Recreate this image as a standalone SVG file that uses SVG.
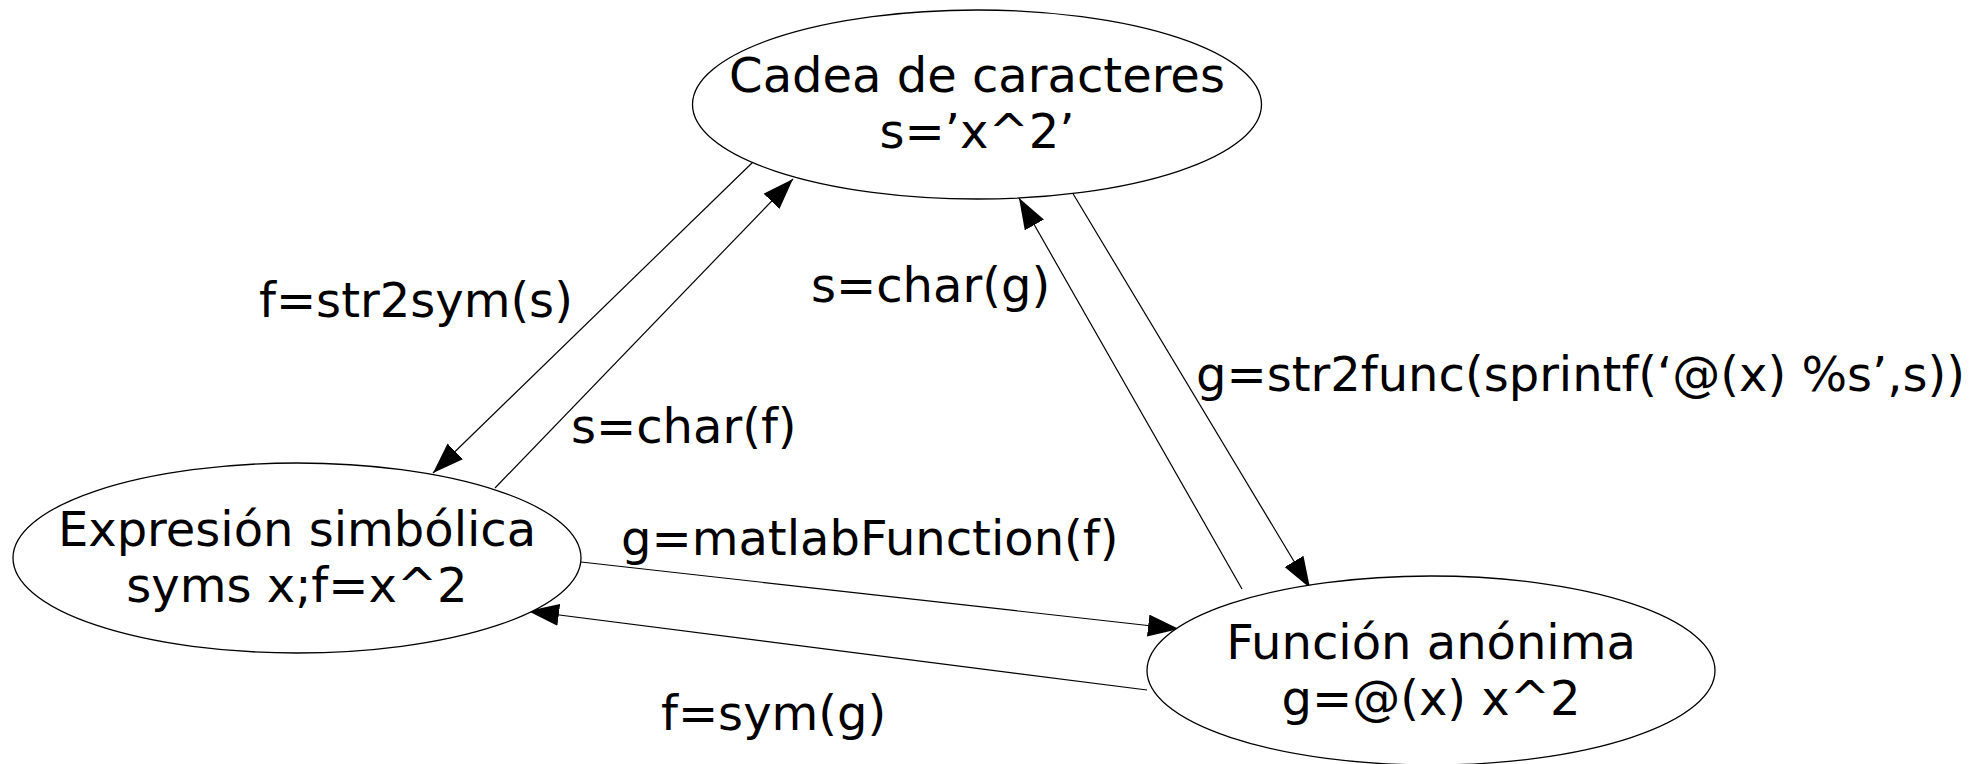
<svg xmlns="http://www.w3.org/2000/svg" width="1985" height="764" viewBox="0 0 1985 764">
<defs>
<marker id="arr" markerUnits="userSpaceOnUse" markerWidth="32" markerHeight="24" refX="31" refY="11" orient="auto">
<path d="M0,0 L31,11 L0,22 z" fill="#000"/>
</marker>
<style>
.node ellipse{fill:#fff;stroke:#000;stroke-width:1.3}
text{font-family:"DejaVu Sans","Liberation Sans",sans-serif;font-size:48px;fill:#000}
.c{text-anchor:middle}
.edge line{stroke:#000;stroke-width:1.2;marker-end:url(#arr)}
</style>
</defs>
<rect width="1985" height="764" fill="#fff"/>
<g id="connectors" class="edge">
<line x1="753" y1="162" x2="433" y2="473"/>
<line x1="495" y1="488" x2="793" y2="179"/>
<line x1="1242" y1="589" x2="1019" y2="198"/>
<line x1="1072" y1="192" x2="1310" y2="588"/>
<line x1="581" y1="562" x2="1179" y2="629"/>
<line x1="1147" y1="690" x2="528" y2="611"/>
</g>
<g id="labels">
<text x="259" y="317">f=str2sym(s)</text>
<text x="571" y="443">s=char(f)</text>
<text x="811" y="302">s=char(g)</text>
<text x="1196" y="391">g=str2func(sprintf(‘@(x) %s’,s))</text>
<text x="621" y="555">g=matlabFunction(f)</text>
<text x="661" y="730">f=sym(g)</text>
</g>
<g id="node-cadena" class="node">
<ellipse cx="977" cy="104.5" rx="284.5" ry="94.5"/>
<text class="c" x="977" y="92">Cadea de caracteres</text>
<text class="c" x="977" y="148">s=’x^2’</text>
</g>
<g id="node-simbolica" class="node">
<ellipse cx="297" cy="558" rx="284" ry="95"/>
<text class="c" x="297" y="546">Expresión simbólica</text>
<text class="c" x="297" y="602">syms x;f=x^2</text>
</g>
<g id="node-anonima" class="node">
<ellipse cx="1431" cy="670.5" rx="284" ry="94.5"/>
<text class="c" x="1431" y="659">Función anónima</text>
<text class="c" x="1431" y="715">g=@(x) x^2</text>
</g>
</svg>
